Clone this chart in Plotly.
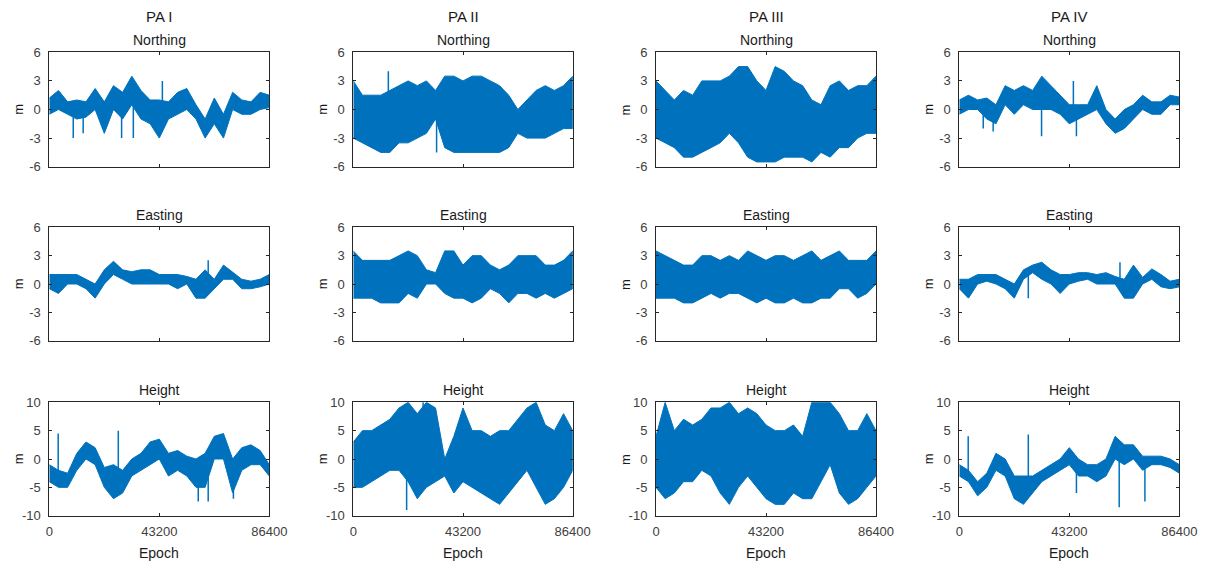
import numpy as np
import plotly.graph_objects as go

# Epoch samples (seconds of day, hourly)
EPOCH = list(range(0, 86401, 3600))

COLUMNS = ["PA I", "PA II", "PA III", "PA IV"]
ROWS = ["Northing", "Easting", "Height"]

# Upper / lower envelopes of each position-error series (m)
pa1_north_hi = [1.2, 2.0, 0.8, 1.0, 0.8, 2.2, 0.8, 2.5, 1.8, 3.5, 2.0, 1.0, 1.0, 0.8, 1.8, 2.2, 0.5, -1.0, 1.2, -0.5, 1.8, 1.0, 0.8, 1.8, 1.5]
pa1_north_lo = [-0.5, 0.0, -0.5, -1.0, -0.8, 0.0, -2.5, 0.0, -1.0, 0.5, -1.0, -1.5, -3.0, -1.0, -0.5, 0.0, -1.0, -3.0, -1.5, -3.0, 0.0, -0.5, -0.5, 0.0, 0.2]
pa2_north_hi = [3.0, 1.5, 1.5, 1.5, 2.0, 2.5, 3.0, 2.5, 3.0, 2.0, 3.5, 3.5, 3.0, 3.5, 3.5, 3.0, 2.5, 1.5, 0.0, 1.0, 2.0, 2.5, 2.0, 2.5, 3.5]
pa2_north_lo = [-3.0, -3.5, -4.0, -4.5, -4.5, -3.5, -3.5, -3.0, -2.5, -1.0, -4.0, -4.5, -4.5, -4.5, -4.5, -4.5, -4.5, -4.0, -2.5, -3.0, -3.0, -3.0, -2.5, -2.0, -2.0]
pa3_north_hi = [3.0, 2.0, 1.0, 2.0, 1.5, 3.0, 3.0, 3.0, 3.5, 4.5, 4.5, 3.0, 2.0, 4.5, 4.0, 3.0, 2.5, 1.0, 0.5, 2.5, 3.0, 2.0, 2.5, 2.5, 3.5]
pa3_north_lo = [-3.0, -3.5, -4.0, -5.0, -5.0, -4.5, -4.0, -3.5, -2.5, -3.5, -5.0, -5.5, -5.5, -5.5, -5.0, -5.0, -5.0, -5.5, -4.5, -5.0, -4.0, -4.0, -3.0, -2.5, -2.5]
pa4_north_hi = [1.0, 1.5, 1.0, 1.2, 0.5, 2.5, 2.0, 2.5, 2.0, 3.5, 2.5, 1.5, 0.5, 0.5, 0.5, 2.5, 0.0, -1.0, 0.0, 0.5, 1.5, 0.8, 0.8, 1.5, 1.3]
pa4_north_lo = [-0.5, 0.0, 0.0, -1.0, -1.5, 0.5, -0.5, 0.5, 0.0, 0.0, 0.0, -0.5, -1.5, -1.0, -0.5, 0.0, -1.5, -2.5, -2.0, -1.0, 0.0, -0.5, -0.5, 0.5, 0.5]

pa1_east_hi = [1.0, 1.0, 1.0, 1.0, 0.5, 0.0, 1.5, 2.4, 1.5, 1.3, 1.5, 1.5, 1.0, 1.0, 1.0, 0.8, 0.5, 1.5, 0.5, 2.0, 1.2, 0.5, 0.3, 0.5, 1.0]
pa1_east_lo = [-0.5, -1.0, 0.0, 0.0, -0.5, -1.5, 0.0, 1.0, 0.5, 0.0, 0.0, 0.0, 0.0, 0.0, -0.5, 0.0, -1.5, -1.5, -0.5, 0.5, 0.5, -0.5, -0.5, -0.3, 0.0]
pa2_east_hi = [3.5, 2.5, 2.5, 2.5, 2.5, 3.0, 3.5, 3.0, 1.5, 1.2, 3.5, 3.5, 2.0, 3.0, 3.0, 2.0, 1.5, 2.0, 3.0, 3.0, 3.0, 2.0, 2.0, 2.5, 3.5]
pa2_east_lo = [-1.5, -1.5, -1.5, -2.0, -2.0, -2.0, -1.0, -1.5, 0.0, 0.0, -1.0, -1.5, -1.5, -2.0, -1.5, -0.5, -1.0, -2.0, -1.0, -1.0, -1.5, -1.0, -1.5, -1.0, -0.5]
pa3_east_hi = [3.5, 3.0, 2.5, 2.0, 2.0, 3.0, 3.0, 2.5, 3.0, 2.5, 3.5, 3.0, 2.5, 3.0, 3.0, 2.5, 3.0, 3.5, 2.5, 3.0, 3.5, 2.5, 2.5, 2.5, 3.5]
pa3_east_lo = [-1.5, -1.5, -1.5, -2.0, -2.0, -1.5, -1.0, -1.5, -1.0, -1.0, -1.5, -2.0, -1.5, -2.0, -2.0, -1.5, -2.0, -2.0, -1.5, -1.5, -0.5, -0.5, -1.5, -1.0, 0.0]
pa4_east_hi = [0.5, 0.5, 1.0, 1.0, 1.0, 0.5, 0.0, 1.5, 2.0, 2.3, 1.5, 1.0, 1.0, 1.2, 1.2, 1.0, 1.2, 0.8, 0.5, 2.0, 0.7, 1.6, 1.0, 0.3, 0.5]
pa4_east_lo = [-0.5, -1.5, 0.0, 0.3, 0.0, -0.5, -1.5, 0.5, 1.2, 0.5, 0.0, -1.0, 0.0, 0.3, 0.5, 0.0, 0.0, 0.0, -1.5, -1.5, 0.0, 0.5, -0.3, -0.5, -0.3]

pa1_height_hi = [-1.0, -2.0, -2.5, 1.0, 3.0, 2.0, -1.5, -1.0, -2.0, 0.0, 1.0, 3.0, 3.5, 1.0, 1.5, 0.5, 0.0, 1.0, 4.0, 4.5, 0.0, 2.0, 2.5, 1.5, -1.0]
pa1_height_lo = [-4.0, -5.0, -5.0, -2.0, 0.0, -1.0, -5.0, -7.0, -6.0, -3.0, -2.0, -1.0, 0.0, -3.0, -2.0, -3.0, -5.0, -5.0, 0.0, 0.0, -6.0, -2.0, -1.0, -1.0, -3.0]
pa2_height_hi = [3.0, 5.0, 5.0, 6.0, 7.0, 9.0, 10.0, 8.0, 10.0, 9.0, 0.0, 4.0, 9.0, 5.0, 5.0, 4.0, 5.0, 5.0, 7.0, 9.0, 10.0, 6.0, 5.0, 8.0, 5.0]
pa2_height_lo = [-5.0, -5.0, -4.0, -3.0, -2.0, -2.0, -4.0, -7.0, -5.0, -4.0, -3.0, -6.0, -4.0, -5.0, -6.0, -7.0, -8.0, -6.0, -4.0, -2.0, -5.0, -8.0, -7.0, -5.0, -2.0]
pa3_height_hi = [4.0, 10.0, 5.0, 7.0, 6.0, 7.0, 9.0, 9.0, 10.0, 8.0, 9.0, 8.0, 6.0, 5.0, 5.0, 6.0, 4.0, 10.0, 10.0, 10.0, 8.0, 5.0, 5.0, 8.0, 5.0]
pa3_height_lo = [-5.0, -7.0, -6.0, -4.0, -4.0, -2.0, -3.0, -6.0, -8.0, -5.0, -3.0, -5.0, -7.0, -8.0, -8.0, -6.0, -7.0, -7.0, -4.0, -1.0, -6.0, -8.0, -7.0, -5.0, -3.0]
pa4_height_hi = [-1.0, -2.0, -4.0, -2.5, 1.0, 0.0, -3.0, -3.0, -3.0, -2.0, -1.0, 0.0, 2.0, 0.0, -1.0, -1.0, 0.0, 4.0, 2.5, 2.5, 0.5, 0.5, 0.5, 0.0, -1.0]
pa4_height_lo = [-3.0, -4.0, -6.5, -5.0, -2.0, -3.0, -7.0, -8.0, -6.0, -4.0, -3.0, -2.0, -1.0, -3.0, -3.0, -4.0, -3.0, 0.0, -1.0, 0.0, -2.0, -1.0, -1.0, -1.5, -2.5]

# Isolated outlier epochs (s) and their peak values (m)
pa1_north_spike_t = [9400, 13300, 28400, 33000, 44400]
pa1_north_spike_v = [-3.0, -2.5, -3.0, -3.0, 3.0]
pa2_north_spike_t = [13800, 32800]
pa2_north_spike_v = [4.0, -4.5]
pa3_north_spike_t = []
pa3_north_spike_v = []
pa4_north_spike_t = [9400, 13300, 32300, 44800, 46000]
pa4_north_spike_v = [-2.0, -2.3, -2.8, 3.0, -2.8]
pa1_east_spike_t = [62400]
pa1_east_spike_v = [2.5]
pa2_east_spike_t = []
pa2_east_spike_v = []
pa3_east_spike_t = []
pa3_east_spike_v = []
pa4_east_spike_t = [27100, 63100]
pa4_east_spike_v = [-1.5, 2.3]
pa1_height_spike_t = [3500, 27100, 58500, 62400, 72300]
pa1_height_spike_v = [4.5, 5.0, -7.5, -7.5, -7.0]
pa2_height_spike_t = [21000, 27500]
pa2_height_spike_v = [-9.0, 10.0]
pa3_height_spike_t = []
pa3_height_spike_v = []
pa4_height_spike_t = [3500, 27100, 46000, 62800, 72900]
pa4_height_spike_v = [4.0, 4.3, -6.0, -8.5, -7.5]

BANDS = [
    [(pa1_north_hi, pa1_north_lo), (pa2_north_hi, pa2_north_lo), (pa3_north_hi, pa3_north_lo), (pa4_north_hi, pa4_north_lo)],
    [(pa1_east_hi, pa1_east_lo), (pa2_east_hi, pa2_east_lo), (pa3_east_hi, pa3_east_lo), (pa4_east_hi, pa4_east_lo)],
    [(pa1_height_hi, pa1_height_lo), (pa2_height_hi, pa2_height_lo), (pa3_height_hi, pa3_height_lo), (pa4_height_hi, pa4_height_lo)],
]
SPIKES = [
    [(pa1_north_spike_t, pa1_north_spike_v), (pa2_north_spike_t, pa2_north_spike_v), (pa3_north_spike_t, pa3_north_spike_v), (pa4_north_spike_t, pa4_north_spike_v)],
    [(pa1_east_spike_t, pa1_east_spike_v), (pa2_east_spike_t, pa2_east_spike_v), (pa3_east_spike_t, pa3_east_spike_v), (pa4_east_spike_t, pa4_east_spike_v)],
    [(pa1_height_spike_t, pa1_height_spike_v), (pa2_height_spike_t, pa2_height_spike_v), (pa3_height_spike_t, pa3_height_spike_v), (pa4_height_spike_t, pa4_height_spike_v)],
]

NE_TICKS = [-6, -3, 0, 3, 6]
H_TICKS = [-10, -5, 0, 5, 10]
X_TICKS = [0, 43200, 86400]

W, H = 1210, 566
COL_PX = [(49.3, 269.3), (353.3, 572.7), (656.0, 876.0), (959.3, 1179.3)]
ROW_PX = [(52.3, 166.7), (227.3, 340.7), (402.3, 515.7)]

BLUE = "#0072BD"
AX = "#262626"
TXT = "#404040"
FONT = "Liberation Sans, Arial, sans-serif"

fig = go.Figure()
annotations = []
layout = {}

for r in range(3):
    for c in range(4):
        idx = r * 4 + c + 1
        xa = "xaxis" if idx == 1 else f"xaxis{idx}"
        ya = "yaxis" if idx == 1 else f"yaxis{idx}"
        xref = "x" if idx == 1 else f"x{idx}"
        yref = "y" if idx == 1 else f"y{idx}"
        hi, lo = BANDS[r][c]
        fig.add_trace(go.Scatter(
            x=EPOCH + EPOCH[::-1], y=hi + lo[::-1],
            mode="lines", fill="toself", fillcolor=BLUE,
            line=dict(color=BLUE, width=1),
            xaxis=xref, yaxis=yref, showlegend=False, hoverinfo="skip",
        ))
        # outliers: thin strokes from the band centre out to the peak value
        st, sv = SPIKES[r][c]
        if st:
            mid = (np.array(hi) + np.array(lo)) / 2
            base = np.interp(st, EPOCH, mid)
            sx, sy = [], []
            for t, b, v in zip(st, base, sv):
                sx += [t, t, None]
                sy += [float(b), v, None]
            fig.add_trace(go.Scatter(
                x=sx, y=sy, mode="lines", line=dict(color=BLUE, width=1.5),
                xaxis=xref, yaxis=yref, showlegend=False, hoverinfo="skip",
            ))
        x0, x1 = COL_PX[c]
        y0, y1 = ROW_PX[r]
        ticks_y = H_TICKS if r == 2 else NE_TICKS
        layout[xa] = dict(
            domain=[x0 / W, x1 / W], range=[0, 86400], anchor=yref,
            tickvals=X_TICKS, ticktext=[str(v) for v in X_TICKS],
            showticklabels=(r == 2), ticks="inside", ticklen=3, tickcolor=AX,
            ticklabelstandoff=4,
            showline=True, linecolor=AX, linewidth=1, mirror="ticks",
            showgrid=False, zeroline=False, automargin=False,
            tickfont=dict(family=FONT, size=13, color=TXT),
        )
        layout[ya] = dict(
            domain=[1 - y1 / H, 1 - y0 / H], range=[ticks_y[0], ticks_y[-1]], anchor=xref,
            tickvals=ticks_y, ticktext=[str(v) for v in ticks_y],
            ticks="inside", ticklen=3, tickcolor=AX, ticklabelstandoff=5,
            showline=True, linecolor=AX, linewidth=1, mirror="ticks",
            showgrid=False, zeroline=False, automargin=False,
            tickfont=dict(family=FONT, size=13, color=TXT),
        )
        xc = (x0 + x1) / 2 / W
        common = dict(xref="paper", yref="paper", showarrow=False,
                      xanchor="center", yanchor="middle")
        # subplot title
        annotations.append(dict(
            text=ROWS[r], x=xc, y=1 - (y0 - 12) / H,
            font=dict(family=FONT, size=14, color="#1a1a1a"), **common,
        ))
        # y-axis label
        annotations.append(dict(
            text="m", x=(x0 - 31) / W, y=1 - (y0 + y1) / 2 / H, textangle=-90,
            font=dict(family=FONT, size=13, color="#1a1a1a"), **common,
        ))
        if r == 0:
            annotations.append(dict(
                text=COLUMNS[c], x=xc, y=1 - 17 / H,
                font=dict(family=FONT, size=15, color="#1a1a1a"), **common,
            ))
        if r == 2:
            annotations.append(dict(
                text="Epoch", x=xc, y=1 - 553 / H,
                font=dict(family=FONT, size=14, color="#1a1a1a"), **common,
            ))

fig.update_layout(
    width=W, height=H, margin=dict(l=0, r=0, t=0, b=0, pad=0, autoexpand=False),
    paper_bgcolor="white", plot_bgcolor="white",
    annotations=annotations, **layout,
)

fig.write_html("out.html")
